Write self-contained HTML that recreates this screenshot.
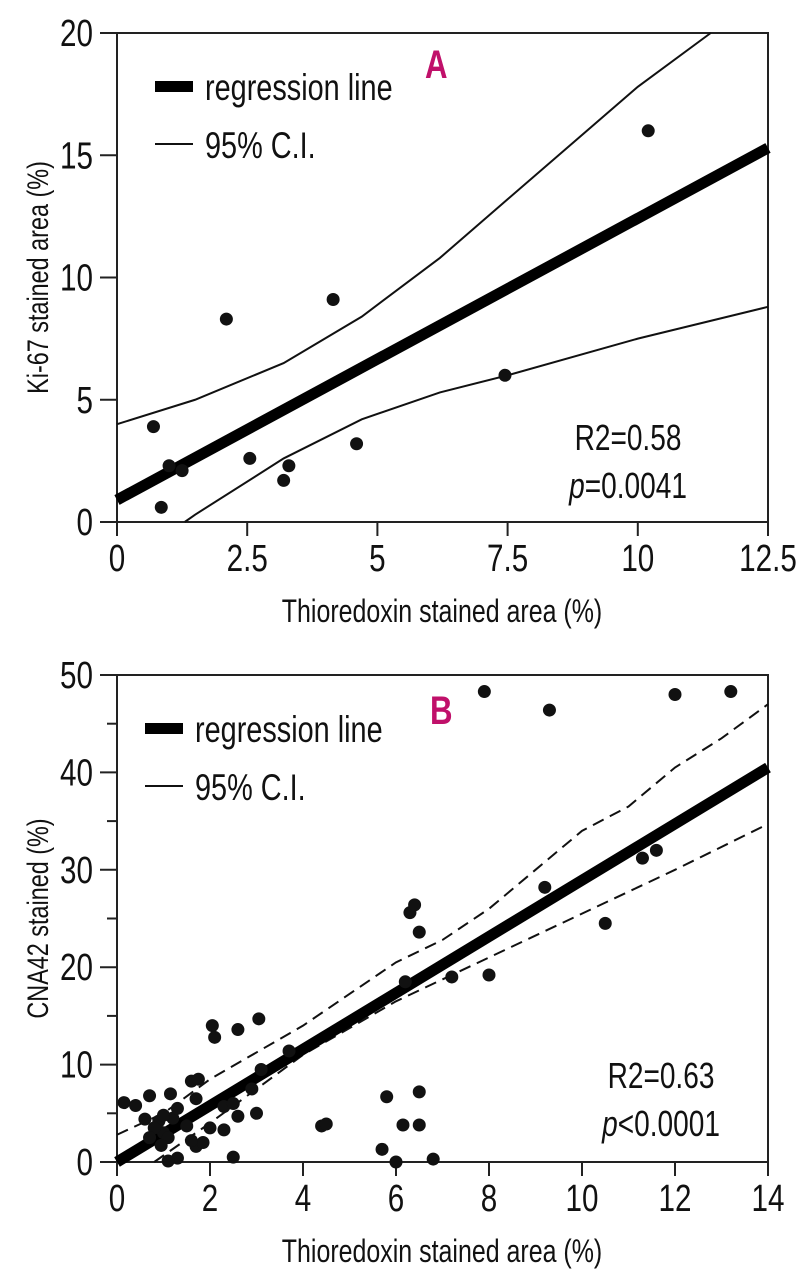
<!DOCTYPE html>
<html><head><meta charset="utf-8"><style>
body{margin:0;background:#fff}
svg{display:block}
text{font-family:"Liberation Sans",sans-serif;fill:#111}
</style></head><body>
<svg id="chart" width="809" height="1280"></svg>
<script>
// Panel A data
const aX=[0.7,0.85,1.0,1.25,2.1,2.55,3.2,3.3,4.15,4.6,7.45,10.2];
const aY=[3.9,0.6,2.3,2.1,8.3,2.6,1.7,2.3,9.1,3.2,6.0,16.0];
const aReg=[[0,0.9],[12.5,15.3]];
const aUpX=[0,1.5,3.2,4.7,6.2,7.5,10,11.4];
const aUpY=[4,5,6.5,8.4,10.8,13.2,17.8,20];
const aLoX=[1.3,1.5,3.2,4.7,6.2,7.5,10,12.5];
const aLoY=[0,0.3,2.6,4.2,5.3,6.0,7.5,8.8];
const aXTicks=[0,2.5,5,7.5,10,12.5];
const aYTicks=[0,5,10,15,20];
// Panel B data
const bX=[7.9,9.3,12,13.2,11.3,11.6,9.2,10.5,6.3,6.4,6.5,7.2,8,6.2,3.05,2.05,2.1,2.6,3.7,3.1,1.6,1.75,1.7,1.15,0.7,0.15,0.4,2.3,2.6,3,2.5,2.0,2.3,4.4,4.5,5.7,5.8,6.15,6.5,6.5,6.0,6.8,2.5,1.3,1.1,1.7,1.85,1.5,1.2,1.0,0.9,0.8,0.6,1.1,1.3,0.95,1.0,0.7,2.9,1.6];
const bY=[48.3,46.4,48,48.3,31.2,32,28.2,24.5,25.6,26.4,23.6,19,19.2,18.5,14.7,14,12.8,13.6,11.4,9.5,8.3,8.5,6.5,7,6.8,6.1,5.8,5.7,4.7,5,6,3.5,3.3,3.7,3.9,1.3,6.7,3.8,3.8,7.2,0,0.3,0.5,0.4,0.1,1.6,2,3.7,4.5,3,4.2,3.5,4.4,2.5,5.5,1.7,4.8,2.5,7.5,2.2];
const bReg=[[0,0],[14,40.5]];
const bUpX=[0,1,2,4,6,7,8,9,10,11,12,13,14];
const bUpY=[2.8,5,8.5,14,20.5,22.8,26,30,34,36.5,40.5,43.5,47];
const bLoX=[0.8,2,4,6,8,10,12,14];
const bLoY=[0,4,11,16.5,21,25.5,30,34.7];
const bXTicks=[0,2,4,6,8,10,12,14];
const bYTicks=[0,10,20,30,40,50];

const NS="http://www.w3.org/2000/svg";
const svg=document.getElementById('chart');
function mk(tag,attrs,parent,txt){const e=document.createElementNS(NS,tag);for(const k in attrs)e.setAttribute(k,attrs[k]);if(txt!==undefined)e.textContent=txt;(parent||svg).appendChild(e);return e;}
function tx(x,y,str,size,anchor,parent,rot,extra){
  let tr=`translate(${x} ${y})`+(rot?` rotate(${rot})`:'')+' scale(0.78 1)';
  const a={x:0,y:0,'font-size':size,'text-anchor':anchor||'start',transform:tr};
  if(extra)for(const k in extra)a[k]=extra[k];
  return mk('text',a,parent,str);
}

function panel(o){
  const g=mk('g',{});
  
  
  const L=117,R=768,T=o.top,B=o.bottom;
  const sx=v=>L+(v/o.xmax)*(R-L);
  const sy=v=>B-(v/o.ymax)*(B-T);
  const fr=mk('rect',{x:L,y:T,width:R-L,height:B-T,fill:'none',stroke:'#222','stroke-width':2},g);
  
  
  o.yTicks.forEach(v=>{
    const t=mk('line',{x1:100,x2:L,y1:sy(v),y2:sy(v),stroke:'#222','stroke-width':2},g);
    
    
    const tl=tx(93,sy(v)+13,String(v),38,'end',g);
    
    
  });
  if(o.minor){o.minor.forEach(v=>{const t=mk('line',{x1:107,x2:L,y1:sy(v),y2:sy(v),stroke:'#222','stroke-width':2},g);
    
    });}
  o.xTicks.forEach(v=>{
    const t=mk('line',{x1:sx(v),x2:sx(v),y1:B,y2:B+14,stroke:'#222','stroke-width':2},g);
    
    
    const tl=tx(sx(v),B+49,String(v),38,'middle',g);
    
    
  });
  const xt=tx(442,B+100,'Thioredoxin stained area (%)',32,'middle',g);
  
  
  const yc=(T+B)/2;
  const yt=tx(48,yc,o.ytitle,30,'middle',g,-90);
  
  
  const pts=(xs,ys)=>xs.map((x,i)=>sx(x)+','+sy(ys[i])).join(' ');
  const up=mk('polyline',{points:pts(o.upX,o.upY),fill:'none',stroke:'#111','stroke-width':2,'stroke-dasharray':o.dash||'none'},g);
  
  
  const lo=mk('polyline',{points:pts(o.loX,o.loY),fill:'none',stroke:'#111','stroke-width':2,'stroke-dasharray':o.dash||'none'},g);
  
  
  const rg=mk('line',{x1:sx(o.reg[0][0]),y1:sy(o.reg[0][1]),x2:sx(o.reg[1][0]),y2:sy(o.reg[1][1]),stroke:'#000','stroke-width':11},g);
  
  
  o.xs.forEach((x,i)=>{
    const c=mk('circle',{cx:sx(x),cy:sy(o.ys[i]),r:6.5,fill:'#111'},g);
    
    
  });
  const lg=mk('g',{},g);
  
  
  const ly=o.legY;
  const e1=mk('rect',{x:o.legX,y:ly-6,width:38,height:11,fill:'#000'},lg);
  
  
  const t1=tx(o.legX+50,ly+13,'regression line',37,'start',lg);
  
  
  const e2=mk('line',{x1:o.legX,x2:o.legX+38,y1:ly+57,y2:ly+57,stroke:'#111','stroke-width':2},lg);
  
  
  const t2=tx(o.legX+50,ly+71,'95% C.I.',37,'start',lg);
  
  
  const pl=tx(o.panX,o.panY,o.panel,40,'start',g,0,{'font-weight':'bold',style:'fill:#c0106a'});
  
  
  const s1=tx(o.statX,o.statY,o.r2,36,'middle',g);
  
  
  const s2=tx(o.statX,o.statY+48,'',36,'middle',g);
  
  
  mk('tspan',{'font-style':'italic'},s2,'p');
  mk('tspan',{},s2,o.pv);
}
panel({name:'panel-a',top:33,bottom:522,xmax:12.5,ymax:20,xTicks:aXTicks,yTicks:aYTicks,xs:aX,ys:aY,reg:aReg,upX:aUpX,upY:aUpY,loX:aLoX,loY:aLoY,ytitle:'Ki-67 stained area (%)',legX:155,legY:87,panel:'A',panX:425,panY:78,statX:628,statY:450,r2:'R2=0.58',pv:'=0.0041'});
panel({name:'panel-b',top:675,bottom:1162,xmax:14,ymax:50,xTicks:bXTicks,yTicks:bYTicks,minor:[5,15,25,35,45],xs:bX,ys:bY,reg:bReg,upX:bUpX,upY:bUpY,loX:bLoX,loY:bLoY,dash:'12,7',ytitle:'CNA42 stained (%)',legX:145,legY:729,panel:'B',panX:430,panY:724,statX:661,statY:1088,r2:'R2=0.63',pv:'<0.0001'});
</script>
</body></html>
